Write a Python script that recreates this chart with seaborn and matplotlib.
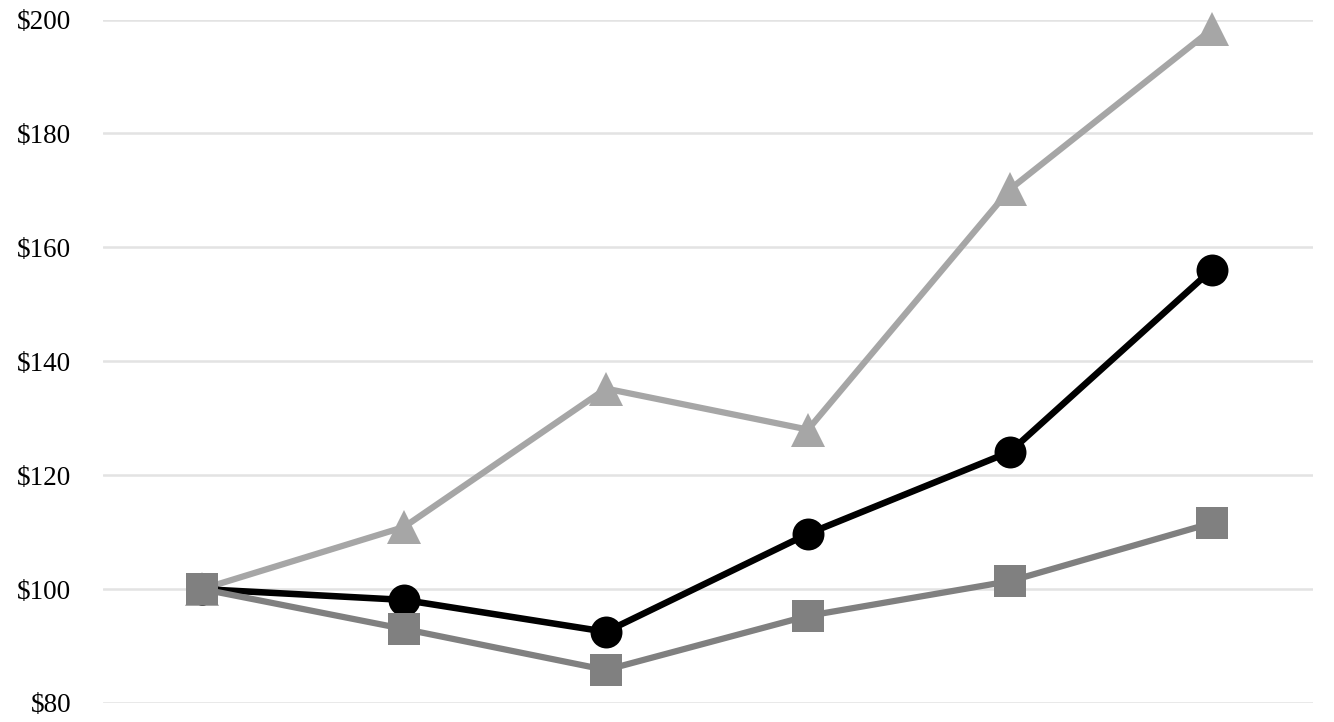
import pandas as pd
import numpy as np
import matplotlib
matplotlib.use("Agg")
import matplotlib.pyplot as plt
import seaborn as sns

periods = [0, 1, 2, 3, 4, 5]
company = [100, 98.1, 92.5, 109.7, 124.1, 156.1]
index_a = [100, 93.0, 85.8, 95.3, 101.4, 111.6]
index_b = [100, 110.9, 135.2, 128.0, 170.2, 198.3]
y_ticks = [80, 100, 120, 140, 160, 180, 200]

sns.set_style("white")
plt.rcParams['font.family'] = ['Liberation Serif', 'DejaVu Serif']

fig = plt.figure(figsize=(13.34, 7.22), dpi=100)
ax = fig.add_axes([103 / 1334, 1 - 703 / 722, 1210 / 1334, (703 - 19.5) / 722])

df = pd.DataFrame({"x": periods, "company": company, "a": index_a, "b": index_b})

sns.lineplot(data=df, x="x", y="b", ax=ax, color="#A6A6A6", lw=4.5,
             marker="^", markersize=24, markeredgewidth=0, clip_on=False, zorder=3)
sns.lineplot(data=df, x="x", y="company", ax=ax, color="#000000", lw=4.7,
             marker="o", markersize=23, markeredgewidth=0, clip_on=False, zorder=4)
sns.lineplot(data=df, x="x", y="a", ax=ax, color="#808080", lw=4.5,
             marker="s", markersize=23, markeredgewidth=0, clip_on=False, zorder=5)

ax.set_xlim(-0.49, 5.5)
ax.set_ylim(80, 200)
ax.set_yticks(y_ticks)
ax.set_yticklabels(["${}".format(v) for v in y_ticks], fontsize=19.5, color="black")
ax.set_xticks([])
ax.set_xlabel("")
ax.set_ylabel("")
ax.tick_params(axis="y", length=0, pad=23)
ax.grid(axis="y", color="#E3E3E3", lw=1.8)
ax.set_axisbelow(True)
sns.despine(ax=ax, left=True, bottom=True)

fig.savefig("out.png", dpi=100)
plt.close()
